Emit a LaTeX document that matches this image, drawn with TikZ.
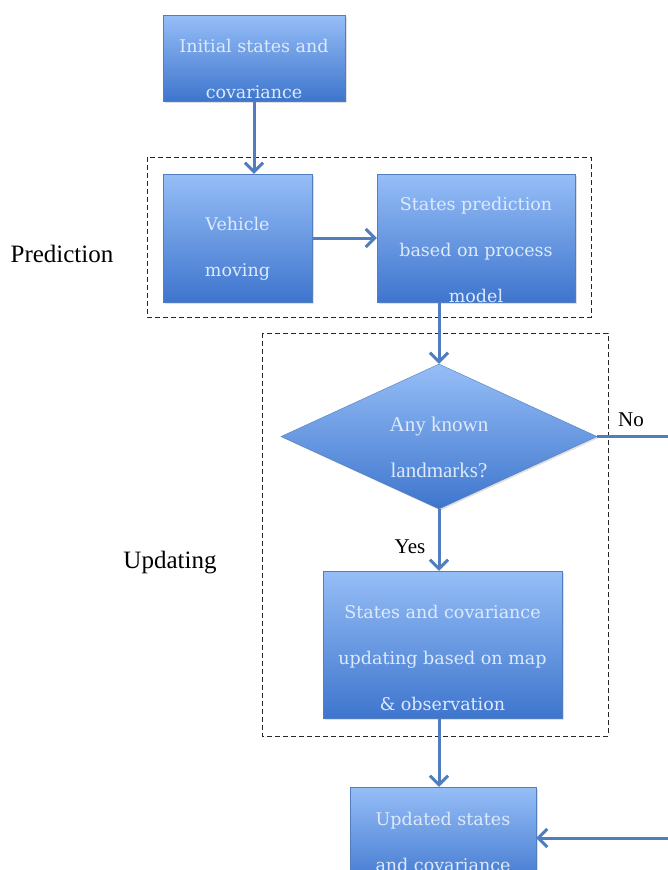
\documentclass[tikz,border=0pt]{standalone}
\usepackage{fontspec}
\setmainfont{Liberation Serif}
\newfontfamily\boxfont{DejaVu Serif}
\usetikzlibrary{positioning, shapes.geometric, arrows.meta, shadows}
\definecolor{boxtop}{RGB}{150,190,247}
\definecolor{boxbottom}{RGB}{62,117,205}
\definecolor{boxline}{RGB}{80,126,192}
\definecolor{boxtext}{RGB}{222,234,251}
\definecolor{flowline}{RGB}{79,125,189}

\begin{document}
\begin{tikzpicture}[
      x = 1pt, y = -1pt,
      flow/.style = {draw = flowline, line width = 3pt,
        -{Straight Barb[length = 9pt, width = 18pt]}},
      box/.style = {rectangle, draw = boxline, thin, inner sep = 0pt,
        top color = boxtop, bottom color = boxbottom,
        drop shadow = {opacity = 0.25, shadow xshift = 1.5pt, shadow yshift = -1.5pt}},
      decision/.style = {box, diamond},
      boxtext/.style = {text = boxtext, align = center,
        font = \boxfont\fontsize{17.5}{46}\selectfont},
      dectext/.style = {boxtext, font = \fontsize{21}{46}\selectfont},
      group/.style = {draw = black!85, thin, dash pattern = on 5pt off 3pt},
      grouplabel/.style = {font = \fontsize{25}{28}\selectfont},
      choice/.style = {font = \fontsize{21}{24}\selectfont}]

      \useasboundingbox (0,0) rectangle (667,870);
      \fill[white] (0,0) rectangle (667,870);

      \draw[group] (147,157) rectangle (591,317);
      \draw[group] (262,333) rectangle (608,736);
      \node[grouplabel] (pred-l) at (62,254) {Prediction};
      \node[grouplabel] (upd-l) at (170,563) {Updating};

      \node[box, minimum width = 182pt, minimum height = 86pt] (init) at (254,58) {};
      \node[boxtext] (init-t) at (254,69) {Initial states and\\covariance};

      \node[box, minimum width = 149pt, minimum height = 128pt] (veh) at (237.5,238) {};
      \node[boxtext] (veh-t) at (237.5,249) {Vehicle\\moving};

      \node[box, minimum width = 198pt, minimum height = 128pt] (pred) at (476,238) {};
      \node[boxtext] (pred-t) at (476,250) {States prediction\\based on process\\model};

      \node[decision, minimum width = 316pt, minimum height = 145pt] (dec) at (439,436.5) {};
      \node[dectext] (dec-t) at (439,447) {Any known\\landmarks?};

      \node[box, minimum width = 239pt, minimum height = 147pt] (upd) at (442.5,644.5) {};
      \node[boxtext] (upd-t) at (442.5,658) {States and covariance\\updating based on map\\\& observation};

      \node[box, minimum width = 186pt, minimum height = 102pt] (fin) at (443,838) {};
      \node[boxtext] (fin-t) at (443,842) {Updated states\\and covariance};

      \node[choice] (no-l) at (631,420) {No};
      \node[choice] (yes-l) at (410,547) {Yes};

      \coordinate (no-turn) at (700,436.5);

      \draw[flow] (init.south) -- (init.south |- veh.north);
      \draw[flow] (veh.east) -- (pred.west);
      \draw[flow] (dec.north |- pred.south) -- (dec.north);
      \draw[flow] (dec.south) -- (dec.south |- upd.north);
      \draw[flow] (upd.south -| dec.south) -- (dec.south |- fin.north);
      \draw[flow] (dec.east) -- (no-turn) |- (fin.east);
  \end{tikzpicture}
\end{document}
